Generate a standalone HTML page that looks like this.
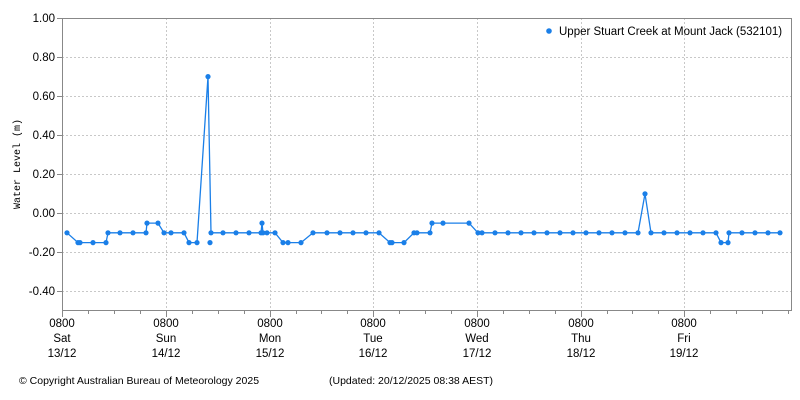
<!DOCTYPE html><html><head><style>body{margin:0;background:#fff}svg{display:block}text{font-family:"Liberation Sans",sans-serif;font-size:11.5px;fill:#000}</style></head><body>
<svg width="800" height="400" xmlns="http://www.w3.org/2000/svg">
<g stroke="#c8c8c8" stroke-dasharray="2,2" stroke-width="1">
<line x1="62" x2="792" y1="57.5" y2="57.5"/><line x1="62" x2="792" y1="96.5" y2="96.5"/><line x1="62" x2="792" y1="135.5" y2="135.5"/><line x1="62" x2="792" y1="174.5" y2="174.5"/><line x1="62" x2="792" y1="213.5" y2="213.5"/><line x1="62" x2="792" y1="252.5" y2="252.5"/><line x1="62" x2="792" y1="291.5" y2="291.5"/>
<line x1="166.5" x2="166.5" y1="18" y2="311"/><line x1="270.5" x2="270.5" y1="18" y2="311"/><line x1="373.5" x2="373.5" y1="18" y2="311"/><line x1="477.5" x2="477.5" y1="18" y2="311"/><line x1="581.5" x2="581.5" y1="18" y2="311"/><line x1="684.5" x2="684.5" y1="18" y2="311"/><line x1="791.5" x2="791.5" y1="18" y2="311"/>
</g>
<rect x="62.5" y="18.5" width="729" height="292" fill="none" stroke="#888"/>
<g stroke="#888">
<line x1="57" x2="62" y1="18.5" y2="18.5"/><line x1="57" x2="62" y1="57.5" y2="57.5"/><line x1="57" x2="62" y1="96.5" y2="96.5"/><line x1="57" x2="62" y1="135.5" y2="135.5"/><line x1="57" x2="62" y1="174.5" y2="174.5"/><line x1="57" x2="62" y1="213.5" y2="213.5"/><line x1="57" x2="62" y1="252.5" y2="252.5"/><line x1="57" x2="62" y1="291.5" y2="291.5"/>
<path d="M62.5 311v6M88.5 311v3M114.5 311v3M140.5 311v3M166.5 311v6M192.5 311v3M218.5 311v3M244.5 311v3M270.5 311v6M296.5 311v3M321.5 311v3M347.5 311v3M373.5 311v6M399.5 311v3M425.5 311v3M451.5 311v3M477.5 311v6M503.5 311v3M529.5 311v3M555.5 311v3M581.5 311v6M607.5 311v3M632.5 311v3M658.5 311v3M684.5 311v6M710.5 311v3M736.5 311v3M762.5 311v3M788.5 311v3"/>
</g>
<g text-anchor="end">
<text x="55" y="22">1.00</text><text x="55" y="61">0.80</text><text x="55" y="100">0.60</text><text x="55" y="139">0.40</text><text x="55" y="178">0.20</text><text x="55" y="217">0.00</text><text x="55" y="256">-0.20</text><text x="55" y="295">-0.40</text>
</g>
<text transform="translate(20,164) rotate(-90)" text-anchor="middle" style="font-family:'Liberation Mono',monospace;font-size:10px">Water Level (m)</text>
<g text-anchor="middle">
<text x="62" y="327">0800</text><text x="62" y="342">Sat</text><text x="62" y="357">13/12</text>
<text x="166" y="327">0800</text><text x="166" y="342">Sun</text><text x="166" y="357">14/12</text>
<text x="270" y="327">0800</text><text x="270" y="342">Mon</text><text x="270" y="357">15/12</text>
<text x="373" y="327">0800</text><text x="373" y="342">Tue</text><text x="373" y="357">16/12</text>
<text x="477" y="327">0800</text><text x="477" y="342">Wed</text><text x="477" y="357">17/12</text>
<text x="581" y="327">0800</text><text x="581" y="342">Thu</text><text x="581" y="357">18/12</text>
<text x="684" y="327">0800</text><text x="684" y="342">Fri</text><text x="684" y="357">19/12</text>
</g>
<text x="19" y="384" style="font-size:10.5px">© Copyright Australian Bureau of Meteorology 2025</text>
<text x="329" y="384" style="font-size:10.5px">(Updated: 20/12/2025 08:38 AEST)</text>
<circle cx="549" cy="31" r="2.8" fill="#1a7fe8"/>
<text x="559" y="35">Upper Stuart Creek at Mount Jack (532101)</text>
<g id="s"></g>
</svg>
<script>
const v2y=v=>18+(1-v)*195.3;
const pts=[[67,-.1],[78,-.15],[80,-.15],[93,-.15],[106,-.15],[108,-.1],[120,-.1],[133,-.1],[146,-.1],[147,-.05],[158,-.05],[164,-.1],[171,-.1],[184,-.1],[189,-.15],[197,-.15],[208,.7],[211,-.1],[223,-.1],[236,-.1],[249,-.1],[261,-.1],[262,-.05],[263,-.1],[267,-.1],[275,-.1],[283,-.15],[288,-.15],[301,-.15],[313,-.1],[327,-.1],[340,-.1],[353,-.1],[366,-.1],[379,-.1],[390,-.15],[392,-.15],[404,-.15],[414,-.1],[417,-.1],[430,-.1],[432,-.05],[443,-.05],[469,-.05],[478,-.1],[482,-.1],[495,-.1],[508,-.1],[521,-.1],[534,-.1],[547,-.1],[560,-.1],[573,-.1],[586,-.1],[599,-.1],[612,-.1],[625,-.1],[638,-.1],[645,.1],[651,-.1],[664,-.1],[677,-.1],[690,-.1],[703,-.1],[716,-.1],[721,-.15],[728,-.15],[729,-.1],[742,-.1],[755,-.1],[768,-.1],[780,-.1]];
let s='<polyline fill="none" stroke="#1a7fe8" stroke-width="1.3" points="'+pts.map(p=>p[0]+','+v2y(p[1]).toFixed(1)).join(' ')+'"/>';
pts.concat([[210,-.15]]).forEach(p=>{s+='<circle cx="'+p[0]+'" cy="'+v2y(p[1]).toFixed(1)+'" r="2.6" fill="#1a7fe8"/>'});
document.getElementById('s').innerHTML=s;
</script>
</body></html>
